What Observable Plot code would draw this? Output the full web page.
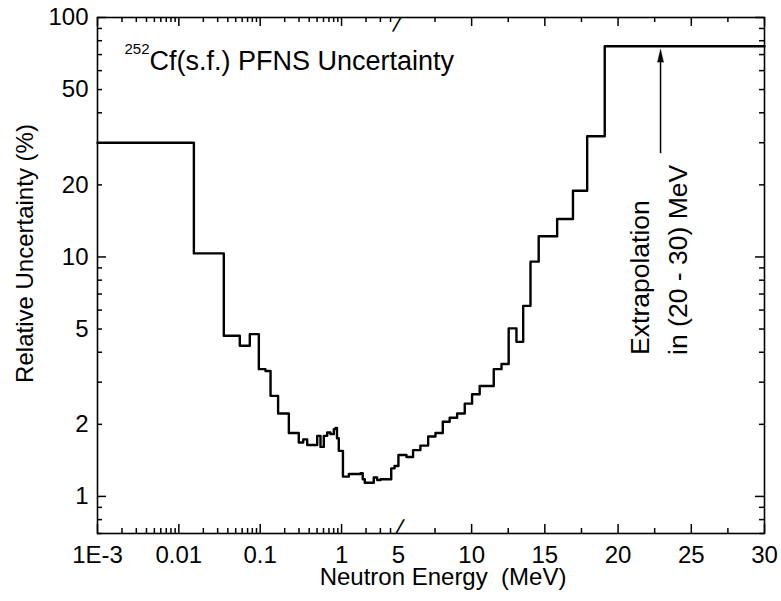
<!DOCTYPE html>
<html>
<head>
<meta charset="utf-8">
<script src="https://cdn.jsdelivr.net/npm/d3@7"></script>
<script src="https://cdn.jsdelivr.net/npm/@observablehq/plot@0.6"></script>
<style>
  html, body { margin: 0; padding: 0; background: #fff; }
  #chart { width: 781px; height: 601px; }
</style>
</head>
<body>
<div id="chart"></div>
<script>
// ---- data ----
// left edges of the energy bins (MeV) and relative uncertainty (%) in each bin
const binStart = [0.001, 0.0153, 0.0357, 0.0561, 0.0745, 0.0962, 0.116, 0.134, 0.166, 0.225,
  0.298, 0.338, 0.378, 0.502, 0.551, 0.605, 0.667, 0.731, 0.804, 0.843,
  0.879, 0.925, 1.04, 1.23, 1.71, 1.82, 1.93, 2.49, 2.74, 3.01,
  4.08, 4.48, 5.0, 5.55, 6.0, 6.5, 7.03, 7.53, 8.03, 8.5,
  9.01, 9.53, 10.03, 10.55, 11.51, 12.04, 12.53, 13.06, 13.52, 14.02,
  14.58, 15.84, 16.92, 17.89, 19.09];
const binValue = [30.0, 10.35, 4.69, 4.26, 4.76, 3.40, 3.34, 2.63, 2.22, 1.84,
  1.68, 1.73, 1.64, 1.79, 1.61, 1.79, 1.85, 1.82, 1.91, 1.93,
  1.75, 1.55, 1.21, 1.24, 1.25, 1.18, 1.14, 1.20, 1.17, 1.18,
  1.31, 1.34, 1.49, 1.46, 1.56, 1.63, 1.78, 1.84, 2.05, 2.13,
  2.22, 2.44, 2.67, 2.89, 3.40, 3.57, 5.03, 4.42, 6.25, 9.56,
  12.2, 14.4, 18.9, 31.9, 75.8];
const lastEdge = 30;

// axis ticks
const xMajorTicks = [0.001, 0.01, 0.1, 1, 10, 15, 20, 25, 30];
const xMinorTicks = [0.002, 0.003, 0.004, 0.005, 0.006, 0.007, 0.008, 0.009,
  0.02, 0.03, 0.04, 0.05, 0.06, 0.07, 0.08, 0.09,
  0.2, 0.3, 0.4, 0.5, 0.6, 0.7, 0.8, 0.9,
  2, 3, 4, 7.5, 12.5, 17.5, 22.5, 27.5];
const xLabelValues = [0.001, 0.01, 0.1, 1, 5, 10, 15, 20, 25, 30];
const xLabelTexts = ["1E-3", "0.01", "0.1", "1", "5", "10", "15", "20", "25", "30"];
const yMajorTicks = [1, 10, 100];
const yMinorTicks = [0.7, 0.8, 0.9, 2, 3, 4, 5, 6, 7, 8, 9, 20, 30, 40, 50, 60, 70, 80, 90];
const yLabelValues = [1, 2, 5, 10, 20, 50, 100];
const breakAt = [5];

// annotation
const arrowE = [22.9];
const arrowFrom = 27.0, arrowHeadBase = 65.0;
const noteLines = ["Extrapolation", "in (20 - 30) MeV"];
const noteE = [21.53, 24.15];
const noteY = 3.9;

// ---- broken axis: log below 5 MeV, linear above ----
const brk = E => E <= 5 ? Math.log10(E) : Math.log10(5) + (E - 5) * 0.18;

const steps = binStart.map((E, i) => ({E, v: binValue[i]}));
steps.push({E: lastEdge, v: binValue[binValue.length - 1]});

const W = 781, H = 601, mL = 97, mR = 17, mT = 17, mB = 68;
const fw = W - mL - mR, fh = H - mT - mB;
const majL = 9, minL = 5;
const font = "Liberation Sans, Arial, Helvetica, sans-serif";

const xLabels = xLabelValues.map((v, i) => ({v, t: xLabelTexts[i]}));

const chart = Plot.plot({
  width: W, height: H,
  marginLeft: mL, marginRight: mR, marginTop: mT, marginBottom: mB,
  style: {fontFamily: font, background: "#fff", color: "#000"},
  x: {type: "linear", domain: [brk(0.001), brk(30)], axis: null},
  y: {type: "log", domain: [0.7, 100], axis: null},
  marks: [
    // ticks bottom / top
    Plot.ruleX(xMajorTicks, {x: d => brk(d), insetTop: fh - majL, stroke: "#000", strokeWidth: 1.5}),
    Plot.ruleX(xMinorTicks, {x: d => brk(d), insetTop: fh - minL, stroke: "#000", strokeWidth: 1.5}),
    Plot.ruleX(xMajorTicks, {x: d => brk(d), insetBottom: fh - majL, stroke: "#000", strokeWidth: 1.5}),
    Plot.ruleX(xMinorTicks, {x: d => brk(d), insetBottom: fh - minL, stroke: "#000", strokeWidth: 1.5}),
    // ticks left / right
    Plot.ruleY(yMajorTicks, {y: d => d, insetRight: fw - majL, stroke: "#000", strokeWidth: 1.5}),
    Plot.ruleY(yMinorTicks, {y: d => d, insetRight: fw - minL, stroke: "#000", strokeWidth: 1.5}),
    Plot.ruleY(yMajorTicks, {y: d => d, insetLeft: fw - majL, stroke: "#000", strokeWidth: 1.5}),
    Plot.ruleY(yMinorTicks, {y: d => d, insetLeft: fw - minL, stroke: "#000", strokeWidth: 1.5}),
    Plot.frame({stroke: "#000", strokeWidth: 1.6}),
    // break marks
    Plot.text(breakAt, {x: d => brk(d), frameAnchor: "bottom", text: () => "/", fontSize: 21, rotate: 14, fill: "#000"}),
    Plot.text(breakAt, {x: d => brk(d), frameAnchor: "top", text: () => "/", fontSize: 21, rotate: 14, fill: "#000"}),
    // tick labels
    Plot.text(xLabels, {x: d => brk(d.v), text: "t", frameAnchor: "bottom", lineAnchor: "top", dy: 12, fontSize: 24, fill: "#000"}),
    Plot.text(yLabelValues, {y: d => d, text: d => String(d), frameAnchor: "left", textAnchor: "end", dx: -9, fontSize: 24, fill: "#000"}),
    // axis titles
    Plot.text(["Neutron Energy  (MeV)"], {frameAnchor: "bottom", textAnchor: "middle", dx: 12, dy: 34, lineAnchor: "top", fontSize: 24, fill: "#000", text: d => d}),
    Plot.text(["Relative Uncertainty (%)"], {frameAnchor: "left", textAnchor: "middle", dx: -72, dy: -22, rotate: -90, fontSize: 24, fill: "#000", text: d => d}),
    // title
    Plot.text(["252"], {frameAnchor: "top-left", dx: 27, dy: 26, lineAnchor: "top", textAnchor: "start", fontSize: 15, fill: "#000", text: d => d}),
    Plot.text(["Cf(s.f.) PFNS Uncertainty"], {frameAnchor: "top-left", dx: 52, dy: 33, lineAnchor: "top", textAnchor: "start", fontSize: 27, fill: "#000", text: d => d}),
    // data
    Plot.line(steps, {x: d => brk(d.E), y: "v", curve: "step-after", stroke: "#000", strokeWidth: 2.4}),
    // annotation arrow
    Plot.ruleX(arrowE, {x: d => brk(d), y1: arrowFrom, y2: arrowHeadBase, stroke: "#000", strokeWidth: 1.5}),
    Plot.vector(arrowE, {x: d => brk(d), y: arrowHeadBase, length: 13, r: 3, shape: "spike", anchor: "start", rotate: 0, fill: "#000", stroke: "#000", strokeWidth: 0.5}),
    Plot.text(noteLines, {x: (d, i) => brk(noteE[i]), y: noteY, text: d => d, rotate: -90, textAnchor: "start", fontSize: 26.5, fill: "#000"})
  ]
});
document.getElementById("chart").appendChild(chart);
</script>
</body>
</html>
